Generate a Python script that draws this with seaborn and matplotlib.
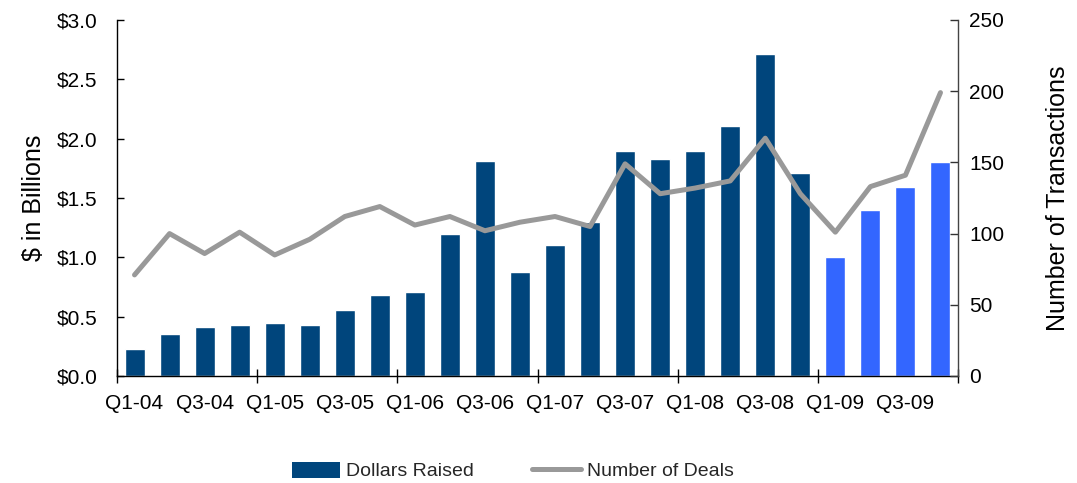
import numpy as np
import pandas as pd
import matplotlib
matplotlib.use("Agg")
import matplotlib.pyplot as plt
import seaborn as sns
from matplotlib.patches import Patch
from matplotlib.lines import Line2D

quarters = ["Q1-04", "Q2-04", "Q3-04", "Q4-04",
            "Q1-05", "Q2-05", "Q3-05", "Q4-05",
            "Q1-06", "Q2-06", "Q3-06", "Q4-06",
            "Q1-07", "Q2-07", "Q3-07", "Q4-07",
            "Q1-08", "Q2-08", "Q3-08", "Q4-08",
            "Q1-09", "Q2-09", "Q3-09", "Q4-09"]
dollars_raised = [0.23, 0.35, 0.41, 0.43,
                  0.45, 0.43, 0.56, 0.68,
                  0.71, 1.20, 1.81, 0.88,
                  1.10, 1.30, 1.90, 1.83,
                  1.90, 2.11, 2.71, 1.71,
                  1.00, 1.40, 1.59, 1.80]
number_of_deals = [71, 100, 86, 101,
                   85, 96, 112, 119,
                   106, 112, 102, 108,
                   112, 105, 149, 128,
                   132, 137, 167, 128,
                   101, 133, 141, 199]
period = ["2004-2008"] * 20 + ["2009"] * 4
xtick_labels = ["Q1-04", "Q3-04", "Q1-05", "Q3-05", "Q1-06", "Q3-06",
                "Q1-07", "Q3-07", "Q1-08", "Q3-08", "Q1-09", "Q3-09"]

dark_blue = "#00457C"
light_blue = "#3366FF"
gray = "#999999"

sns.set_theme(style="white")
plt.rcParams["font.family"] = ["Liberation Sans", "DejaVu Sans"]

df = pd.DataFrame({"quarter": quarters, "dollars": dollars_raised,
                   "deals": number_of_deals, "period": period,
                   "pos": np.arange(len(quarters))})

fig = plt.figure(figsize=(10.77, 4.83), dpi=100)
ax = fig.add_axes([117 / 1077, 1 - 376 / 483, (958 - 117) / 1077, (376 - 20) / 483])

sns.barplot(data=df, x="quarter", y="dollars", hue="period",
            palette={"2004-2008": dark_blue, "2009": light_blue},
            dodge=False, width=0.57, saturation=1, legend=False, ax=ax)

n = len(quarters)
ax.set_xlim(-0.5, n - 0.5)
ax.set_ylim(0, 3.0)
ax.set_yticks(np.arange(0, 3.01, 0.5))
ax.set_yticklabels([f"${v:.1f}" for v in np.arange(0, 3.01, 0.5)])
ax.set_ylabel("$ in Billions", fontsize=18, color="black", labelpad=8)
ax.set_xlabel("")

# major ticks at year boundaries, labels on every second quarter
ax.set_xticks(np.arange(-0.5, n, 4))
ax.set_xticklabels([""] * len(np.arange(-0.5, n, 4)))
ax.set_xticks(np.arange(0, n, 2), minor=True)
ax.set_xticklabels(xtick_labels, minor=True)
ax.tick_params(axis="x", which="major", direction="inout", length=10, width=1,
               color="black", bottom=True)
ax.tick_params(axis="x", which="minor", length=0, pad=13, labelsize=15,
               labelcolor="black", bottom=True)
ax.tick_params(axis="y", direction="in", length=5, width=1, color="black",
               labelsize=15, labelcolor="black", pad=14, left=True)

ax2 = ax.twinx()
sns.lineplot(data=df, x="pos", y="deals", color=gray, linewidth=3.6,
             ax=ax2, solid_joinstyle="round", solid_capstyle="round")
ax2.set_ylim(0, 250)
ax2.set_yticks(np.arange(0, 251, 50))
ax2.set_ylabel("Number of Transactions", fontsize=18, color="black", labelpad=30)
ax2.set_xlabel("")
ax2.tick_params(axis="y", direction="in", length=6, width=1, color="#333333",
                labelsize=15, labelcolor="black", pad=8, right=True)
ax.set_xlim(-0.5, n - 0.5)

for a in (ax, ax2):
    a.spines["top"].set_visible(False)
    a.grid(False)
    for s in ("left", "bottom", "right"):
        a.spines[s].set_color("black")
        a.spines[s].set_linewidth(1)
ax.spines["right"].set_visible(False)
ax2.spines["left"].set_visible(False)
ax2.spines["bottom"].set_visible(False)
ax2.spines["right"].set_color("#444444")

handles = [Patch(facecolor=dark_blue, edgecolor="none"),
           Line2D([0], [0], color=gray, linewidth=3.6)]
fig.legend(handles, ["Dollars Raised", "Number of Deals"], loc="center",
           bbox_to_anchor=(0.476, 0.025), ncol=2, frameon=False, fontsize=14,
           handlelength=2.5, handletextpad=0.3, columnspacing=3.0,
           handleheight=0.9)

fig.savefig("out.png", dpi=100)
